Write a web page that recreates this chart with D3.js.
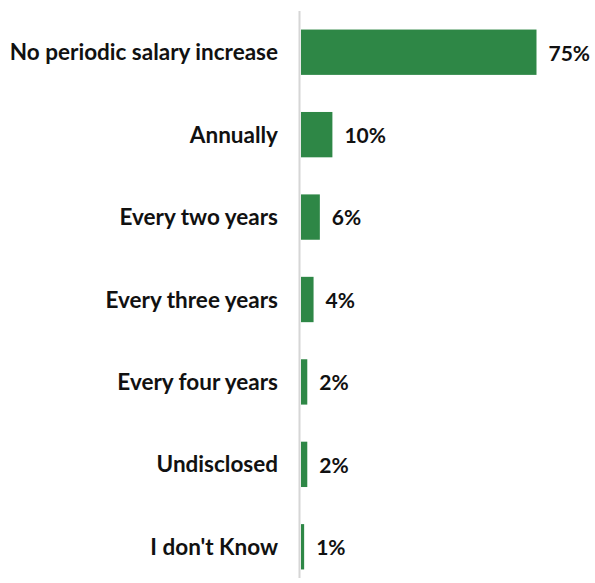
<!DOCTYPE html>
<html>
<head>
<meta charset="utf-8">
<script src="https://cdn.jsdelivr.net/npm/d3@7"></script>
<style>
  html, body { margin: 0; padding: 0; background: #fff; }
  svg text { font-family: Lato, "Open Sans", sans-serif; font-weight: 700; fill: #111; }
</style>
</head>
<body>
<svg id="chart" width="595" height="583"></svg>
<script>
// Salary increase frequency (share of respondents, %)
const categories = [
  "No periodic salary increase",
  "Annually",
  "Every two years",
  "Every three years",
  "Every four years",
  "Undisclosed",
  "I don't Know"
];
const values = [75, 10, 6, 4, 2, 2, 1];
const valueLabels = ["75%", "10%", "6%", "4%", "2%", "2%", "1%"];

const svg = d3.select("#chart");
const x0 = 301;

const x = d3.scaleLinear().domain([0, 75]).range([x0, 536.5]);
const y = d3.scaleBand()
  .domain(categories)
  .range([11, 588])
  .paddingInner(0.45)
  .paddingOuter(0.225);

// bars
svg.selectAll("rect.bar")
  .data(categories)
  .join("rect")
  .attr("class", "bar")
  .attr("x", x0)
  .attr("y", d => y(d))
  .attr("width", (d, i) => x(values[i]) - x0)
  .attr("height", y.bandwidth())
  .attr("fill", "#2e8746");

// vertical baseline
svg.append("line")
  .attr("x1", 299.5).attr("x2", 299.5)
  .attr("y1", 11).attr("y2", 578)
  .attr("stroke", "#d6d6d6")
  .attr("stroke-width", 2);

// category labels
svg.selectAll("text.cat")
  .data(categories)
  .join("text")
  .attr("class", "cat")
  .attr("x", 278)
  .attr("y", d => y(d) + y.bandwidth() / 2)
  .attr("dy", "0.36em")
  .attr("text-anchor", "end")
  .attr("font-size", 22.5)
  .text(d => d);

// value labels
svg.selectAll("text.val")
  .data(categories)
  .join("text")
  .attr("class", "val")
  .attr("x", (d, i) => x(values[i]) + 12)
  .attr("y", d => y(d) + y.bandwidth() / 2)
  .attr("dy", "0.4em")
  .attr("font-size", 21)
  .text((d, i) => valueLabels[i]);
</script>
</body>
</html>
